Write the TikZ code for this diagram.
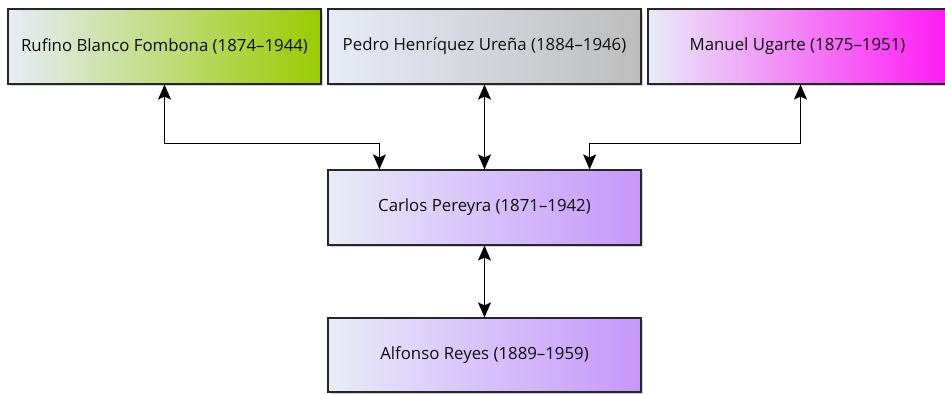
\documentclass[tikz,border=0pt]{standalone}
\usepackage{fontspec}
\setsansfont{Open Sans}
\usetikzlibrary{arrows.meta,shadows}

\definecolor{paleL}{HTML}{E8ECF8}
\definecolor{limeR}{HTML}{99CC00}
\definecolor{greyR}{HTML}{BDBDBD}
\definecolor{pinkR}{HTML}{FF11F4}
\definecolor{lilacR}{HTML}{C697FB}

\tikzset{
  person/.style={draw=black!85, line width=1.2pt, minimum width=313pt,
    minimum height=75pt, inner sep=0pt, left color=paleL, right color=#1,
    drop shadow={opacity=0.35, shadow xshift=2pt, shadow yshift=-2pt}},
  link/.style={line width=1.3pt, {Stealth[length=15pt,width=13pt,inset=3pt]}-{Stealth[length=15pt,width=13pt,inset=3pt]}}
}

\begin{document}
\begin{tikzpicture}[x=1pt, y=1pt, font=\sffamily\fontsize{16.8}{20}\selectfont, text=black!95]
  \useasboundingbox (0,0) rectangle (945,395);

  % Top row
  \node[person=limeR] (rufino) at (164.5,348.5) {Rufino Blanco Fombona (1874–1944)};
  \node[person=greyR] (pedro) at (484.5,348.5) {Pedro Henríquez Ureña (1884–1946)};
  \node[person=pinkR] (ugarte) at (804.5,348.5) {\hspace*{-14pt}Manuel Ugarte (1875–1951)};

  % Middle and bottom
  \node[person=lilacR] (carlos) at (484.5,187.5) {Carlos Pereyra (1871–1942)};
  \node[person=lilacR, minimum height=74pt] (alfonso) at (484.5,40) {Alfonso Reyes (1889–1959)};

  % Links
  \draw[link] (rufino.south) -- ++(0,-59) -| ([xshift=52pt]carlos.north west);
  \draw[link] (pedro.south) -- (carlos.north);
  \draw[link] ([xshift=-4pt]ugarte.south) -- ++(0,-59) -| ([xshift=-52pt]carlos.north east);
  \draw[link] (carlos.south) -- (alfonso.north);
\end{tikzpicture}
\end{document}
